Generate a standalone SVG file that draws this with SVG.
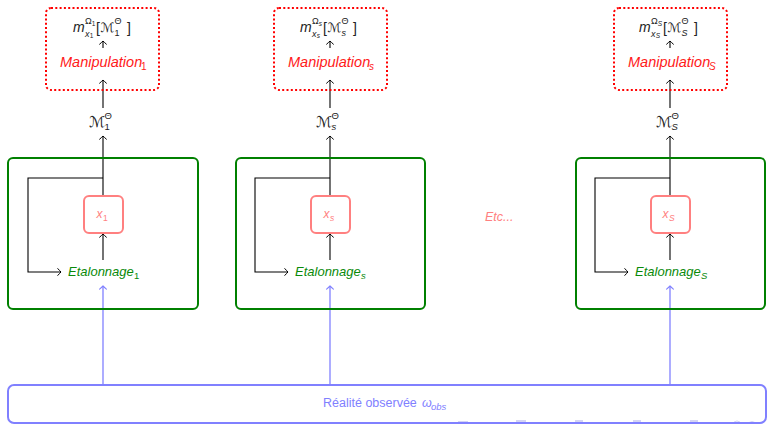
<svg xmlns="http://www.w3.org/2000/svg" width="773" height="424" viewBox="0 0 773 424">
  <style>
    text { font-family: "Liberation Sans", Arial, sans-serif; }
    .it { font-style: italic; }
    .cal { font-family: "DejaVu Sans", "Liberation Serif", serif; font-style: normal; }
    .math { fill: #222; }
    .manip-box { fill: none; stroke: #ff0000; stroke-width: 2; stroke-dasharray: 2 2.3; }
    .manip-txt { fill: #ff1a1a; font-style: italic; }
    .cal-box { fill: none; stroke: #008000; stroke-width: 2; }
    .cal-txt { fill: #0a8a0a; font-style: italic; }
    .x-box { fill: none; stroke: #ff8080; stroke-width: 2; }
    .x-txt { fill: #ff8080; }
    .obs-box { fill: none; stroke: #8080ff; stroke-width: 2; }
    .obs-txt { fill: #8080ff; }
    .up { font-style: normal; }
    .wire { fill: none; stroke: #000; stroke-width: 1.1; }
    .wire-blue { fill: none; stroke: #8080ff; stroke-width: 1.3; }
    .nav { fill: #d4d4f4; }
  </style>
  <defs>
    <marker id="tip" markerUnits="userSpaceOnUse" markerWidth="10" markerHeight="10" viewBox="-5 -5 10 10" refX="0" refY="0" orient="auto">
      <path d="M -3.2 -3.4 Q -0.9 -0.9 0 0 Q -0.9 0.9 -3.2 3.4" fill="none" stroke="#000" stroke-width="1" stroke-linecap="round"/>
    </marker>
    <marker id="tip-blue" markerUnits="userSpaceOnUse" markerWidth="10" markerHeight="10" viewBox="-5 -5 10 10" refX="0" refY="0" orient="auto">
      <path d="M -3.2 -3.4 Q -0.9 -0.9 0 0 Q -0.9 0.9 -3.2 3.4" fill="none" stroke="#8080ff" stroke-width="1.1" stroke-linecap="round"/>
    </marker>
  </defs>

  <!-- connectors -->
  <g id="connectors">
    <!-- column 1 -->
    <line class="wire" x1="103" y1="48" x2="103" y2="41" marker-end="url(#tip)"/>
    <line class="wire" x1="103" y1="108" x2="103" y2="80" marker-end="url(#tip)"/>
    <line class="wire" x1="103" y1="196" x2="103" y2="136" marker-end="url(#tip)"/>
    <line class="wire" x1="103" y1="260" x2="103" y2="234" marker-end="url(#tip)"/>
    <path class="wire" d="M 103 178 H 28 V 272 H 61" marker-end="url(#tip)"/>
    <line class="wire-blue" x1="103" y1="385" x2="103" y2="286" marker-end="url(#tip-blue)"/>
    <!-- column s -->
    <line class="wire" x1="330" y1="48" x2="330" y2="41" marker-end="url(#tip)"/>
    <line class="wire" x1="330" y1="108" x2="330" y2="80" marker-end="url(#tip)"/>
    <line class="wire" x1="330" y1="196" x2="330" y2="136" marker-end="url(#tip)"/>
    <line class="wire" x1="330" y1="260" x2="330" y2="234" marker-end="url(#tip)"/>
    <path class="wire" d="M 330 178 H 255 V 272 H 288" marker-end="url(#tip)"/>
    <line class="wire-blue" x1="330" y1="385" x2="330" y2="286" marker-end="url(#tip-blue)"/>
    <!-- column S -->
    <line class="wire" x1="670" y1="48" x2="670" y2="41" marker-end="url(#tip)"/>
    <line class="wire" x1="670" y1="108" x2="670" y2="80" marker-end="url(#tip)"/>
    <line class="wire" x1="670" y1="196" x2="670" y2="136" marker-end="url(#tip)"/>
    <line class="wire" x1="670" y1="260" x2="670" y2="234" marker-end="url(#tip)"/>
    <path class="wire" d="M 670 178 H 595 V 272 H 628" marker-end="url(#tip)"/>
    <line class="wire-blue" x1="670" y1="385" x2="670" y2="286" marker-end="url(#tip-blue)"/>
  </g>

  <!-- manipulation boxes -->
  <g id="manip-1">
    <rect class="manip-box" x="46" y="8" width="113" height="82" rx="5"/>
    <text class="math it" x="73" y="32" font-size="14">m</text>
    <text class="math" x="85" y="24" font-size="9">Ω</text>
    <text class="math" x="91.8" y="25.5" font-size="6.5">1</text>
    <text class="math it" x="85" y="36.5" font-size="9">x</text>
    <text class="math" x="89.8" y="38" font-size="6.5">1</text>
    <text class="math" x="96" y="33" font-size="14">[</text>
    <text class="math cal" x="100.5" y="32" font-size="13">ℳ</text>
    <text class="math" x="114.5" y="24" font-size="9">Θ</text>
    <text class="math" x="114.5" y="36" font-size="9">1</text>
    <text class="math" x="127" y="33" font-size="14">]</text>
    <text class="manip-txt" x="60" y="67" font-size="14.5">Manipulation</text>
    <text class="manip-txt up" x="141" y="70" font-size="10">1</text>
  </g>
  <g id="manip-s">
    <rect class="manip-box" x="274" y="8" width="113" height="82" rx="5"/>
    <text class="math it" x="300" y="32" font-size="14">m</text>
    <text class="math" x="312" y="24" font-size="9">Ω</text>
    <text class="math it" x="318.8" y="25.5" font-size="6.5">s</text>
    <text class="math it" x="312" y="36.5" font-size="9">x</text>
    <text class="math it" x="316.8" y="38" font-size="6.5">s</text>
    <text class="math" x="323" y="33" font-size="14">[</text>
    <text class="math cal" x="327.5" y="32" font-size="13">ℳ</text>
    <text class="math" x="341.5" y="24" font-size="9">Θ</text>
    <text class="math it" x="341.5" y="36" font-size="9">s</text>
    <text class="math" x="353" y="33" font-size="14">]</text>
    <text class="manip-txt" x="288" y="67" font-size="14.5">Manipulation</text>
    <text class="manip-txt" x="369" y="70" font-size="10">s</text>
  </g>
  <g id="manip-S">
    <rect class="manip-box" x="614" y="8" width="113" height="82" rx="5"/>
    <text class="math it" x="639" y="32" font-size="14">m</text>
    <text class="math" x="651" y="24" font-size="9">Ω</text>
    <text class="math it" x="657.8" y="25.5" font-size="6.5">S</text>
    <text class="math it" x="651" y="36.5" font-size="9">x</text>
    <text class="math it" x="655.8" y="38" font-size="6.5">S</text>
    <text class="math" x="663" y="33" font-size="14">[</text>
    <text class="math cal" x="667.5" y="32" font-size="13">ℳ</text>
    <text class="math" x="681.5" y="24" font-size="9">Θ</text>
    <text class="math it" x="681.5" y="36" font-size="9">S</text>
    <text class="math" x="694" y="33" font-size="14">]</text>
    <text class="manip-txt" x="628" y="67" font-size="14.5">Manipulation</text>
    <text class="manip-txt" x="709" y="70" font-size="10">S</text>
  </g>

  <!-- model labels -->
  <g id="model-1">
    <text class="math cal" x="89" y="127" font-size="15">ℳ</text>
    <text class="math" x="104.5" y="119" font-size="9.5">Θ</text>
    <text class="math" x="104.5" y="130" font-size="9.5">1</text>
  </g>
  <g id="model-s">
    <text class="math cal" x="316" y="127" font-size="15">ℳ</text>
    <text class="math" x="331.5" y="119" font-size="9.5">Θ</text>
    <text class="math it" x="331.5" y="130" font-size="9.5">s</text>
  </g>
  <g id="model-S">
    <text class="math cal" x="656" y="127" font-size="15">ℳ</text>
    <text class="math" x="671.5" y="119" font-size="9.5">Θ</text>
    <text class="math it" x="671.5" y="130" font-size="9.5">S</text>
  </g>

  <!-- calibration blocks -->
  <g id="calib-1">
    <rect class="cal-box" x="8" y="158" width="190" height="151" rx="5"/>
    <text class="cal-txt" x="68" y="276" font-size="13">Etalonnage</text>
    <text class="cal-txt up" x="134" y="279" font-size="9.5">1</text>
  </g>
  <g id="calib-s">
    <rect class="cal-box" x="236" y="158" width="189" height="151" rx="5"/>
    <text class="cal-txt" x="295" y="276" font-size="13">Etalonnage</text>
    <text class="cal-txt" x="361" y="279" font-size="9.5">s</text>
  </g>
  <g id="calib-S">
    <rect class="cal-box" x="576" y="158" width="189" height="151" rx="5"/>
    <text class="cal-txt" x="635" y="276" font-size="13">Etalonnage</text>
    <text class="cal-txt" x="701" y="279" font-size="9.5">S</text>
  </g>

  <!-- parameter nodes -->
  <g id="x-1">
    <rect class="x-box" x="84" y="196" width="39" height="37" rx="5"/>
    <text class="x-txt it" x="96.5" y="218" font-size="12">x</text>
    <text class="x-txt" x="103" y="221" font-size="8.5">1</text>
  </g>
  <g id="x-s">
    <rect class="x-box" x="311" y="196" width="39" height="37" rx="5"/>
    <text class="x-txt it" x="323.5" y="218" font-size="12">x</text>
    <text class="x-txt it" x="330" y="221" font-size="8.5">s</text>
  </g>
  <g id="x-S">
    <rect class="x-box" x="651" y="196" width="39" height="37" rx="5"/>
    <text class="x-txt it" x="662.5" y="218" font-size="12">x</text>
    <text class="x-txt it" x="669" y="221" font-size="8.5">S</text>
  </g>

  <g id="etc">
    <text class="x-txt it" x="485" y="221" font-size="12.5">Etc...</text>
  </g>

  <!-- navigation marks along the bottom edge -->
  <g id="nav">
    <rect class="nav" x="458" y="421" width="10" height="2"/>
    <rect class="nav" x="516" y="420" width="10" height="3"/>
    <rect class="nav" x="575" y="420" width="8" height="3"/>
    <rect class="nav" x="633" y="420" width="8" height="3"/>
    <rect class="nav" x="690" y="420" width="8" height="3"/>
    <circle cx="737" cy="425" r="4" fill="none" stroke="#d4d4f4" stroke-width="1"/>
    <circle cx="752" cy="425" r="3.5" fill="none" stroke="#d4d4f4" stroke-width="1"/>
  </g>

  <!-- observed reality -->
  <g id="reality">
    <rect class="obs-box" x="8" y="385" width="758" height="38" rx="6"/>
    <text class="obs-txt" x="323" y="407" font-size="12.5">Réalité observée</text>
    <text class="obs-txt it" x="422" y="407" font-size="12.5">ω</text>
    <text class="obs-txt it" x="431" y="410" font-size="9.5">obs</text>
  </g>
</svg>
